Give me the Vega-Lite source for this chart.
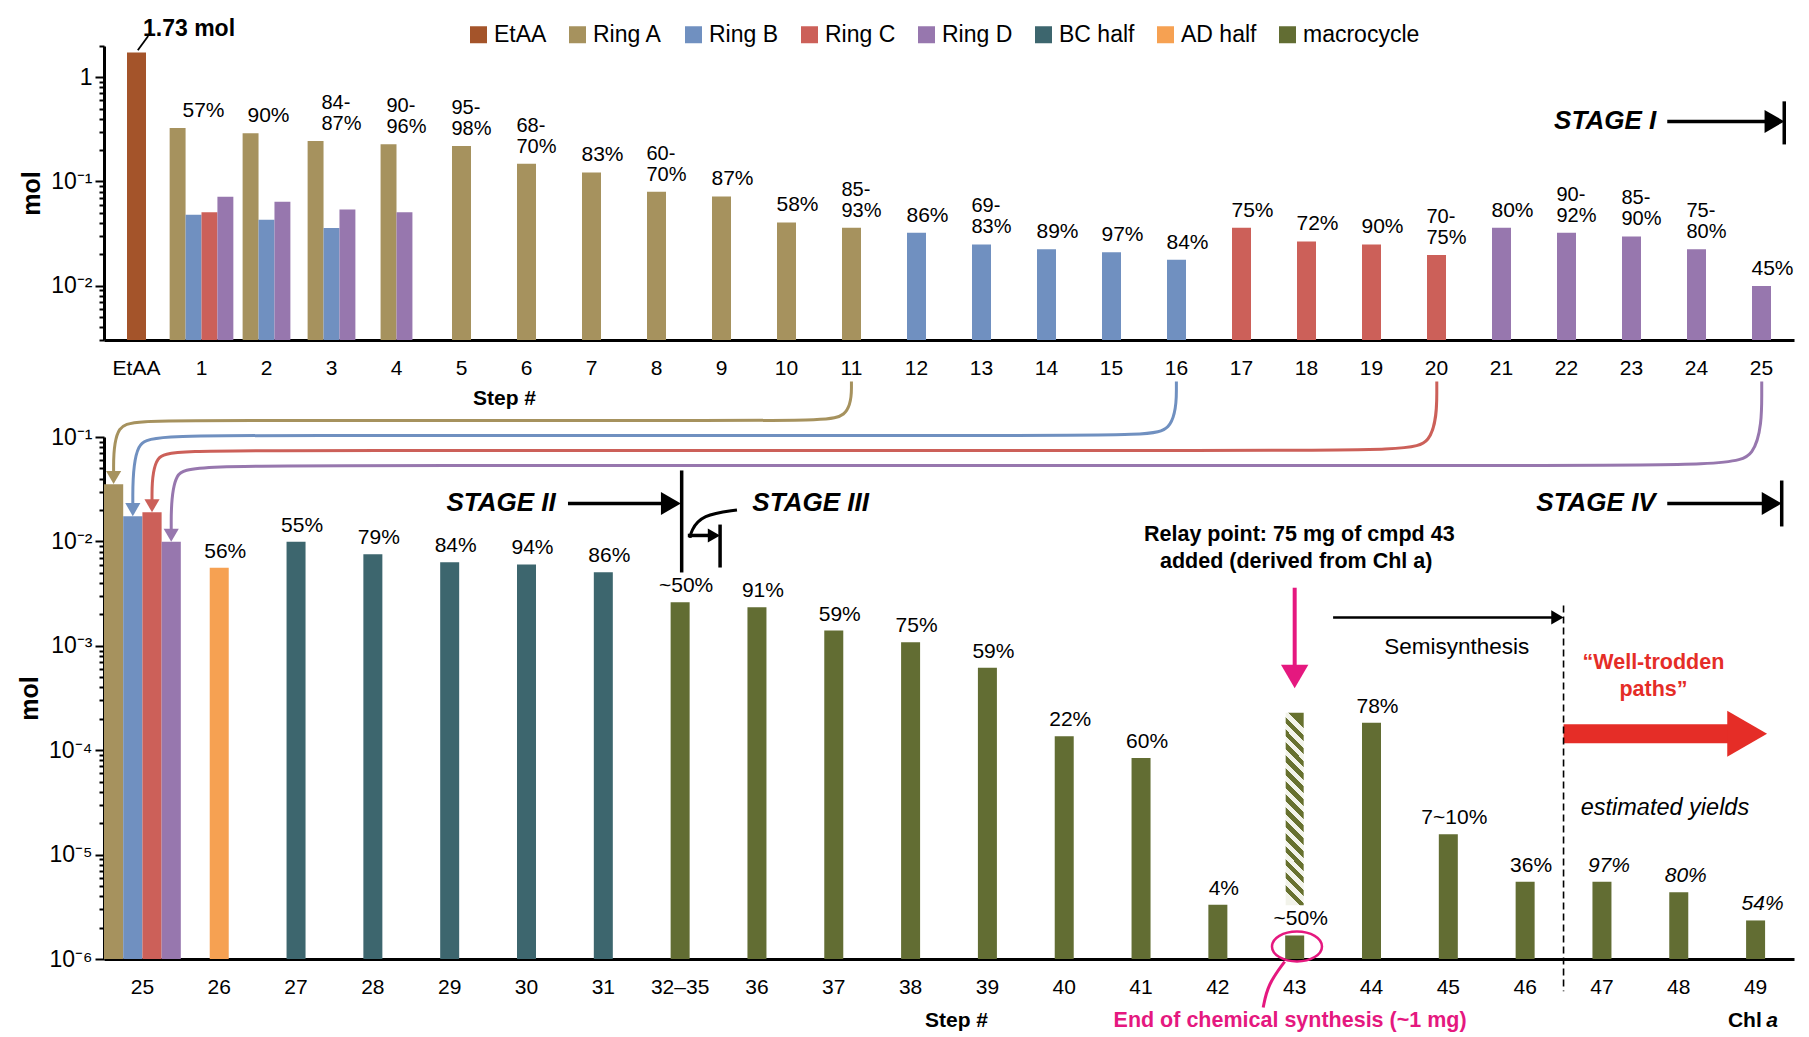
{
"$schema": "https://vega.github.io/schema/vega-lite/v6.json",
"background": "white",
"padding": {"left": 17, "top": 17, "right": 2, "bottom": 2},
"bounds": "flush",
"spacing": 97,
"config": {
  "view": {"stroke": null},
  "font": "Liberation Sans",
  "axis": {"grid": false, "domainColor": "black", "tickColor": "black", "labelColor": "black", "titleColor": "black", "labelFont": "Liberation Sans", "titleFont": "Liberation Sans"},
  "legend": {"labelFont": "Liberation Sans"}
},
"datasets": {
  "topBars": [
    {"step": "EtAA", "series": "EtAA", "mol": 1.73},
    {"step": "1", "series": "Ring A", "mol": 0.326},
    {"step": "1", "series": "Ring B", "mol": 0.048},
    {"step": "1", "series": "Ring C", "mol": 0.0507},
    {"step": "1", "series": "Ring D", "mol": 0.0713},
    {"step": "2", "series": "Ring A", "mol": 0.29},
    {"step": "2", "series": "Ring B", "mol": 0.0428},
    {"step": "2", "series": "Ring D", "mol": 0.0638},
    {"step": "3", "series": "Ring A", "mol": 0.244},
    {"step": "3", "series": "Ring B", "mol": 0.0358},
    {"step": "3", "series": "Ring D", "mol": 0.0538},
    {"step": "4", "series": "Ring A", "mol": 0.228},
    {"step": "4", "series": "Ring D", "mol": 0.0507},
    {"step": "5", "series": "Ring A", "mol": 0.219},
    {"step": "6", "series": "Ring A", "mol": 0.148},
    {"step": "7", "series": "Ring A", "mol": 0.122},
    {"step": "8", "series": "Ring A", "mol": 0.0795},
    {"step": "9", "series": "Ring A", "mol": 0.0718},
    {"step": "10", "series": "Ring A", "mol": 0.0404},
    {"step": "11", "series": "Ring A", "mol": 0.0359},
    {"step": "12", "series": "Ring B", "mol": 0.0321},
    {"step": "13", "series": "Ring B", "mol": 0.0248},
    {"step": "14", "series": "Ring B", "mol": 0.0223},
    {"step": "15", "series": "Ring B", "mol": 0.0209},
    {"step": "16", "series": "Ring B", "mol": 0.0177},
    {"step": "17", "series": "Ring C", "mol": 0.0359},
    {"step": "18", "series": "Ring C", "mol": 0.0265},
    {"step": "19", "series": "Ring C", "mol": 0.0248},
    {"step": "20", "series": "Ring C", "mol": 0.0197},
    {"step": "21", "series": "Ring D", "mol": 0.0359},
    {"step": "22", "series": "Ring D", "mol": 0.0321},
    {"step": "23", "series": "Ring D", "mol": 0.0296},
    {"step": "24", "series": "Ring D", "mol": 0.0223},
    {"step": "25", "series": "Ring D", "mol": 0.00993}
  ],
  "topLabels": [
    {"step": "1", "mol": 0.326, "label": "57%"},
    {"step": "2", "mol": 0.29, "label": "90%"},
    {"step": "3", "mol": 0.244, "label": "84-\n87%"},
    {"step": "4", "mol": 0.228, "label": "90-\n96%"},
    {"step": "5", "mol": 0.219, "label": "95-\n98%"},
    {"step": "6", "mol": 0.148, "label": "68-\n70%"},
    {"step": "7", "mol": 0.122, "label": "83%"},
    {"step": "8", "mol": 0.0795, "label": "60-\n70%"},
    {"step": "9", "mol": 0.0718, "label": "87%"},
    {"step": "10", "mol": 0.0404, "label": "58%"},
    {"step": "11", "mol": 0.0359, "label": "85-\n93%"},
    {"step": "12", "mol": 0.0321, "label": "86%"},
    {"step": "13", "mol": 0.0248, "label": "69-\n83%"},
    {"step": "14", "mol": 0.0223, "label": "89%"},
    {"step": "15", "mol": 0.0209, "label": "97%"},
    {"step": "16", "mol": 0.0177, "label": "84%"},
    {"step": "17", "mol": 0.0359, "label": "75%"},
    {"step": "18", "mol": 0.0265, "label": "72%"},
    {"step": "19", "mol": 0.0248, "label": "90%"},
    {"step": "20", "mol": 0.0197, "label": "70-\n75%"},
    {"step": "21", "mol": 0.0359, "label": "80%"},
    {"step": "22", "mol": 0.0321, "label": "90-\n92%"},
    {"step": "23", "mol": 0.0296, "label": "85-\n90%"},
    {"step": "24", "mol": 0.0223, "label": "75-\n80%"},
    {"step": "25", "mol": 0.00993, "label": "45%"}
  ],
  "topText": [
    {"pos": 0.6, "mol": 2.92, "text": "1.73 mol", "k": "big"},
    {"pos": 23.88, "mol": 0.3776, "text": "STAGE I", "k": "stage"}
  ],
  "topRules": [
    {"pos": 0.52, "mol": 1.82, "pos2": 0.68, "mol2": 2.5, "k": "thin"},
    {"pos": 24.05, "mol": 0.3776, "pos2": 25.65, "mol2": 0.3776, "k": "thick"},
    {"pos": 25.85, "mol": 0.588, "pos2": 25.85, "mol2": 0.2268, "k": "thick"}
  ],
  "topHeads": [
    {"pos": 25.7, "mol": 0.3776}
  ],
  "botBars": [
    {"step": "25", "series": "Ring A", "mol": 0.0353},
    {"step": "25", "series": "Ring B", "mol": 0.0174},
    {"step": "25", "series": "Ring C", "mol": 0.019},
    {"step": "25", "series": "Ring D", "mol": 0.0099},
    {"step": "26", "series": "AD half", "mol": 0.00559},
    {"step": "27", "series": "BC half", "mol": 0.0099},
    {"step": "28", "series": "BC half", "mol": 0.00753},
    {"step": "29", "series": "BC half", "mol": 0.00633},
    {"step": "30", "series": "BC half", "mol": 0.00601},
    {"step": "31", "series": "BC half", "mol": 0.00507},
    {"step": "32–35", "series": "macrocycle", "mol": 0.00262},
    {"step": "36", "series": "macrocycle", "mol": 0.00234},
    {"step": "37", "series": "macrocycle", "mol": 0.0014},
    {"step": "38", "series": "macrocycle", "mol": 0.00108},
    {"step": "39", "series": "macrocycle", "mol": 0.000615},
    {"step": "40", "series": "macrocycle", "mol": 0.000136},
    {"step": "41", "series": "macrocycle", "mol": 0.000084},
    {"step": "42", "series": "macrocycle", "mol": 0.0000033},
    {"step": "43", "series": "macrocycle", "mol": 0.00000168},
    {"step": "44", "series": "macrocycle", "mol": 0.000183},
    {"step": "45", "series": "macrocycle", "mol": 0.0000157},
    {"step": "46", "series": "macrocycle", "mol": 0.0000055},
    {"step": "47", "series": "macrocycle", "mol": 0.0000055},
    {"step": "48", "series": "macrocycle", "mol": 0.00000437},
    {"step": "49", "series": "macrocycle", "mol": 0.00000234}
  ],
  "botLabels": [
    {"step": "26", "mol": 0.00559, "label": "56%"},
    {"step": "27", "mol": 0.0099, "label": "55%"},
    {"step": "28", "mol": 0.00753, "label": "79%"},
    {"step": "29", "mol": 0.00633, "label": "84%"},
    {"step": "30", "mol": 0.00601, "label": "94%"},
    {"step": "31", "mol": 0.00507, "label": "86%"},
    {"step": "32–35", "mol": 0.00262, "label": "~50%"},
    {"step": "36", "mol": 0.00234, "label": "91%"},
    {"step": "37", "mol": 0.0014, "label": "59%"},
    {"step": "38", "mol": 0.00108, "label": "75%"},
    {"step": "39", "mol": 0.000615, "label": "59%"},
    {"step": "40", "mol": 0.000136, "label": "22%"},
    {"step": "41", "mol": 0.000084, "label": "60%"},
    {"step": "42", "mol": 0.0000033, "label": "4%"},
    {"step": "43", "mol": 0.00000168, "label": "~50%"},
    {"step": "44", "mol": 0.000183, "label": "78%"},
    {"step": "45", "mol": 0.0000157, "label": "7~10%"},
    {"step": "46", "mol": 0.0000055, "label": "36%"},
    {"step": "47", "mol": 0.0000055, "label": "97%"},
    {"step": "48", "mol": 0.00000437, "label": "80%"},
    {"step": "49", "mol": 0.00000234, "label": "54%"}
  ],
  "relay": [
    {"step": "43", "hi": 0.000228, "lo": 0.00000327}
  ],
  "curves": [
    {"c": "A", "i": 0, "pos": 9.73, "mol": 0.34},
    {"c": "A", "i": 1, "pos": 9.73, "mol": 0.1439},
    {"c": "A", "i": 2, "pos": 9.1, "mol": 0.1439},
    {"c": "A", "i": 3, "pos": 0.6, "mol": 0.1439},
    {"c": "A", "i": 4, "pos": 0.125, "mol": 0.1439},
    {"c": "A", "i": 5, "pos": 0.125, "mol": 0.0428},
    {"c": "B", "i": 0, "pos": 13.96, "mol": 0.34},
    {"c": "B", "i": 1, "pos": 13.96, "mol": 0.1034},
    {"c": "B", "i": 2, "pos": 13.3, "mol": 0.1034},
    {"c": "B", "i": 3, "pos": 0.85, "mol": 0.1034},
    {"c": "B", "i": 4, "pos": 0.375, "mol": 0.1034},
    {"c": "B", "i": 5, "pos": 0.375, "mol": 0.0209},
    {"c": "C", "i": 0, "pos": 17.35, "mol": 0.34},
    {"c": "C", "i": 1, "pos": 17.35, "mol": 0.0743},
    {"c": "C", "i": 2, "pos": 16.65, "mol": 0.0743},
    {"c": "C", "i": 3, "pos": 1.1, "mol": 0.0743},
    {"c": "C", "i": 4, "pos": 0.625, "mol": 0.0743},
    {"c": "C", "i": 5, "pos": 0.625, "mol": 0.0231},
    {"c": "D", "i": 0, "pos": 21.58, "mol": 0.34},
    {"c": "D", "i": 1, "pos": 21.58, "mol": 0.0533},
    {"c": "D", "i": 2, "pos": 20.8, "mol": 0.0533},
    {"c": "D", "i": 3, "pos": 1.35, "mol": 0.0533},
    {"c": "D", "i": 4, "pos": 0.875, "mol": 0.0533},
    {"c": "D", "i": 5, "pos": 0.875, "mol": 0.0121},
    {"c": "S3", "i": 0, "pos": 8.24, "mol": 0.02},
    {"c": "S3", "i": 1, "pos": 7.78, "mol": 0.018},
    {"c": "S3", "i": 2, "pos": 7.64, "mol": 0.0125},
    {"c": "S3", "i": 3, "pos": 7.63, "mol": 0.0108},
    {"c": "M", "i": 0, "pos": 15.37, "mol": 0.000000946},
    {"c": "M", "i": 1, "pos": 15.15, "mol": 0.00000057},
    {"c": "M", "i": 2, "pos": 15.09, "mol": 0.000000343}
  ],
  "ringHeads": [
    {"c": "A", "pos": 0.125, "mol": 0.0409},
    {"c": "B", "pos": 0.375, "mol": 0.02014},
    {"c": "C", "pos": 0.625, "mol": 0.02198},
    {"c": "D", "pos": 0.875, "mol": 0.01146}
  ],
  "heads": [
    {"k": "b529", "pos": 7.38, "mol": 0.0231},
    {"k": "b529", "pos": 21.71, "mol": 0.0231},
    {"k": "b200", "pos": 7.94, "mol": 0.0114},
    {"k": "b200", "pos": 18.92, "mol": 0.00187},
    {"k": "pink", "pos": 15.5, "mol": 0.000508},
    {"k": "red", "pos": 21.39, "mol": 0.000144}
  ],
  "bRules": [
    {"k": "black", "pos": 6.04, "mol": 0.0231, "pos2": 7.3, "mol2": 0.0231},
    {"k": "black", "pos": 7.52, "mol": 0.0478, "pos2": 7.52, "mol2": 0.00504},
    {"k": "black", "pos": 7.6, "mol": 0.0114, "pos2": 7.9, "mol2": 0.0114},
    {"k": "black", "pos": 8.02, "mol": 0.0145, "pos2": 8.02, "mol2": 0.00562},
    {"k": "black", "pos": 20.35, "mol": 0.0231, "pos2": 21.65, "mol2": 0.0231},
    {"k": "black", "pos": 21.84, "mol": 0.0383, "pos2": 21.84, "mol2": 0.0139},
    {"k": "semi", "pos": 16.0, "mol": 0.00187, "pos2": 18.9, "mol2": 0.00187},
    {"k": "pink", "pos": 15.5, "mol": 0.0036, "pos2": 15.5, "mol2": 0.000593},
    {"k": "red", "pos": 19.0, "mol": 0.000144, "pos2": 21.2, "mol2": 0.000144},
    {"k": "dash", "pos": 19.0, "mol": 0.00243, "pos2": 19.0, "mol2": 0.00000049}
  ],
  "circle": [
    {"pos": 15.53, "mol": 0.00000132}
  ],
  "bText": [
    {"k": "stageR", "pos": 5.88, "mol": 0.0231, "text": "STAGE II"},
    {"k": "stageR", "pos": 20.2, "mol": 0.0231, "text": "STAGE IV"},
    {"k": "stageL", "pos": 8.44, "mol": 0.0231, "text": "STAGE III"},
    {"k": "relay", "pos": 15.56, "mol": 0.0114, "text": "Relay point: 75 mg of cmpd 43"},
    {"k": "relay", "pos": 15.52, "mol": 0.00628, "text": "added (derived from Chl a)"},
    {"k": "semi", "pos": 17.61, "mol": 0.00098, "text": "Semisynthesis"},
    {"k": "well", "pos": 20.17, "mol": 0.00069, "text": "“Well-trodden"},
    {"k": "well", "pos": 20.17, "mol": 0.00038, "text": "paths”"},
    {"k": "est", "pos": 20.32, "mol": 0.0000282, "text": "estimated yields"},
    {"k": "end", "pos": 15.44, "mol": 0.000000257, "text": "End of chemical synthesis (~1 mg)"},
    {"k": "chl", "pos": 21.58, "mol": 0.000000257, "text": "Chl"},
    {"k": "chla", "pos": 21.64, "mol": 0.000000257, "text": "a"}
  ]
},
"vconcat": [
  {
    "width": 1690,
    "height": 294,
    "layer": [
      {
        "layer": [
          {
            "data": {"name": "topBars"},
            "transform": [{"filter": "indexof(['1','2','3','4'], datum.step) < 0"}],
            "mark": {"type": "bar", "size": 19},
            "encoding": {
              "x": {"field": "step", "type": "ordinal", "sort": null,
                "scale": {"domain": ["EtAA","1","2","3","4","5","6","7","8","9","10","11","12","13","14","15","16","17","18","19","20","21","22","23","24","25"], "paddingInner": 0.02, "paddingOuter": 0.01},
                "axis": {"title": "Step #", "titleFontSize": 21, "titleFontWeight": "bold", "titleX": 400, "titleY": 58, "titleBaseline": "middle", "labelAngle": 0, "labelFontSize": 21, "labelPadding": 17, "ticks": false, "domainWidth": 3, "labelOverlap": false}},
              "y": {"field": "mol", "type": "quantitative", "stack": null,
                "scale": {"type": "log", "domain": [0.003, 2], "nice": false},
                "axis": {"title": "mol", "titleFontSize": 25, "titleFontWeight": "bold", "titlePadding": 6,
                  "values": [0.003,0.004,0.005,0.006,0.007,0.008,0.009,0.01,0.02,0.03,0.04,0.05,0.06,0.07,0.08,0.09,0.1,0.2,0.3,0.4,0.5,0.6,0.7,0.8,0.9,1,2],
                  "labelExpr": "datum.value == 1 ? '1' : datum.value == 0.1 ? '10⁻¹' : datum.value == 0.01 ? '10⁻²' : ''",
                  "tickSize": {"condition": {"test": "datum.value == 1 || datum.value == 0.1 || datum.value == 0.01", "value": 9}, "value": 5},
                  "tickWidth": 2, "domainWidth": 3, "labelFontSize": 23, "labelPadding": 3, "labelOverlap": false}},
              "y2": {"datum": 0.003},
              "color": {"field": "series", "type": "nominal",
                "scale": {"domain": ["EtAA","Ring A","Ring B","Ring C","Ring D","BC half","AD half","macrocycle"], "range": ["#A4542A","#A6925E","#7090C0","#CC6059","#9777AE","#3D666E","#F6A152","#626D33"]},
                "legend": {"title": null, "orient": "none", "legendX": 363, "legendY": -23, "direction": "horizontal", "columns": 8, "symbolType": "square", "symbolSize": 289, "symbolStrokeWidth": 0, "symbolOpacity": 1, "labelFontSize": 23, "columnPadding": 19, "labelOffset": 4}}
            }
          },
          {
            "data": {"name": "topBars"},
            "transform": [{"filter": "datum.step == '1'"}],
            "mark": {"type": "bar"},
            "encoding": {
              "x": {"field": "step", "type": "ordinal", "sort": null, "scale": {"domain": ["EtAA","1","2","3","4","5","6","7","8","9","10","11","12","13","14","15","16","17","18","19","20","21","22","23","24","25"], "paddingInner": 0.02, "paddingOuter": 0.01}},
              "xOffset": {"field": "series", "type": "nominal", "scale": {"domain": ["Ring A","Ring B","Ring C","Ring D"], "paddingInner": 0, "paddingOuter": 0}},
              "y": {"field": "mol", "type": "quantitative", "stack": null, "scale": {"type": "log", "domain": [0.003, 2], "nice": false}},
              "y2": {"datum": 0.003},
              "color": {"field": "series", "type": "nominal", "scale": {"domain": ["EtAA","Ring A","Ring B","Ring C","Ring D","BC half","AD half","macrocycle"], "range": ["#A4542A","#A6925E","#7090C0","#CC6059","#9777AE","#3D666E","#F6A152","#626D33"]}}
            }
          },
          {
            "data": {"name": "topBars"},
            "transform": [{"filter": "datum.step == '2' || datum.step == '3'"}],
            "mark": {"type": "bar"},
            "encoding": {
              "x": {"field": "step", "type": "ordinal", "sort": null, "scale": {"domain": ["EtAA","1","2","3","4","5","6","7","8","9","10","11","12","13","14","15","16","17","18","19","20","21","22","23","24","25"], "paddingInner": 0.02, "paddingOuter": 0.01}},
              "xOffset": {"field": "series", "type": "nominal", "scale": {"domain": ["Ring A","Ring B","Ring D"], "paddingInner": 0, "paddingOuter": 0.5}},
              "y": {"field": "mol", "type": "quantitative", "stack": null, "scale": {"type": "log", "domain": [0.003, 2], "nice": false}},
              "y2": {"datum": 0.003},
              "color": {"field": "series", "type": "nominal", "scale": {"domain": ["EtAA","Ring A","Ring B","Ring C","Ring D","BC half","AD half","macrocycle"], "range": ["#A4542A","#A6925E","#7090C0","#CC6059","#9777AE","#3D666E","#F6A152","#626D33"]}}
            }
          },
          {
            "data": {"name": "topBars"},
            "transform": [{"filter": "datum.step == '4'"}],
            "mark": {"type": "bar"},
            "encoding": {
              "x": {"field": "step", "type": "ordinal", "sort": null, "scale": {"domain": ["EtAA","1","2","3","4","5","6","7","8","9","10","11","12","13","14","15","16","17","18","19","20","21","22","23","24","25"], "paddingInner": 0.02, "paddingOuter": 0.01}},
              "xOffset": {"field": "series", "type": "nominal", "scale": {"domain": ["Ring A","Ring D"], "paddingInner": 0, "paddingOuter": 1}},
              "y": {"field": "mol", "type": "quantitative", "stack": null, "scale": {"type": "log", "domain": [0.003, 2], "nice": false}},
              "y2": {"datum": 0.003},
              "color": {"field": "series", "type": "nominal", "scale": {"domain": ["EtAA","Ring A","Ring B","Ring C","Ring D","BC half","AD half","macrocycle"], "range": ["#A4542A","#A6925E","#7090C0","#CC6059","#9777AE","#3D666E","#F6A152","#626D33"]}}
            }
          },
          {
            "data": {"name": "topLabels"},
            "transform": [{"filter": "datum.step != '1' && datum.step != '2' && indexof(datum.label, '\\n') < 0"}],
            "mark": {"type": "text", "align": "left", "baseline": "bottom", "dx": -10, "dy": -7, "fontSize": 21, "color": "black"},
            "encoding": {
              "x": {"field": "step", "type": "ordinal", "sort": null, "scale": {"domain": ["EtAA","1","2","3","4","5","6","7","8","9","10","11","12","13","14","15","16","17","18","19","20","21","22","23","24","25"], "paddingInner": 0.02, "paddingOuter": 0.01}},
              "y": {"field": "mol", "type": "quantitative", "scale": {"type": "log", "domain": [0.003, 2], "nice": false}},
              "text": {"field": "label"}
            }
          },
          {
            "data": {"name": "topLabels"},
            "transform": [{"filter": "indexof(datum.label, '\\n') >= 0"}],
            "mark": {"type": "text", "align": "left", "baseline": "bottom", "dx": -10, "dy": -28, "fontSize": 20, "lineBreak": "\n", "lineHeight": 21, "color": "black"},
            "encoding": {
              "x": {"field": "step", "type": "ordinal", "sort": null, "scale": {"domain": ["EtAA","1","2","3","4","5","6","7","8","9","10","11","12","13","14","15","16","17","18","19","20","21","22","23","24","25"], "paddingInner": 0.02, "paddingOuter": 0.01}},
              "y": {"field": "mol", "type": "quantitative", "scale": {"type": "log", "domain": [0.003, 2], "nice": false}},
              "text": {"field": "label"}
            }
          },
          {
            "data": {"name": "topLabels"},
            "transform": [{"filter": "datum.step == '1' || datum.step == '2'"}],
            "mark": {"type": "text", "align": "center", "baseline": "bottom", "dx": 2, "dy": -7, "fontSize": 21, "color": "black"},
            "encoding": {
              "x": {"field": "step", "type": "ordinal", "sort": null, "scale": {"domain": ["EtAA","1","2","3","4","5","6","7","8","9","10","11","12","13","14","15","16","17","18","19","20","21","22","23","24","25"], "paddingInner": 0.02, "paddingOuter": 0.01}},
              "y": {"field": "mol", "type": "quantitative", "scale": {"type": "log", "domain": [0.003, 2], "nice": false}},
              "text": {"field": "label"}
            }
          }
        ],
        "resolve": {"scale": {"xOffset": "independent"}}
      },
      {
        "layer": [
          {
            "data": {"name": "topRules"},
            "transform": [{"filter": "datum.k == 'thin'"}],
            "mark": {"type": "rule", "strokeWidth": 1.8, "color": "black"},
            "encoding": {
              "x": {"field": "pos", "type": "quantitative", "scale": {"domain": [0, 26], "nice": false, "zero": false}, "axis": null},
              "x2": {"field": "pos2"},
              "y": {"field": "mol", "type": "quantitative", "scale": {"type": "log", "domain": [0.003, 2], "nice": false}},
              "y2": {"field": "mol2"}
            }
          },
          {
            "data": {"name": "topRules"},
            "transform": [{"filter": "datum.k == 'thick'"}],
            "mark": {"type": "rule", "strokeWidth": 3.5, "color": "black"},
            "encoding": {
              "x": {"field": "pos", "type": "quantitative", "scale": {"domain": [0, 26], "nice": false, "zero": false}, "axis": null},
              "x2": {"field": "pos2"},
              "y": {"field": "mol", "type": "quantitative", "scale": {"type": "log", "domain": [0.003, 2], "nice": false}},
              "y2": {"field": "mol2"}
            }
          },
          {
            "data": {"name": "topHeads"},
            "mark": {"type": "point", "shape": "triangle-right", "filled": true, "size": 529, "color": "black", "opacity": 1},
            "encoding": {
              "x": {"field": "pos", "type": "quantitative", "scale": {"domain": [0, 26], "nice": false, "zero": false}, "axis": null},
              "y": {"field": "mol", "type": "quantitative", "scale": {"type": "log", "domain": [0.003, 2], "nice": false}}
            }
          },
          {
            "data": {"name": "topText"},
            "transform": [{"filter": "datum.k == 'big'"}],
            "mark": {"type": "text", "align": "left", "baseline": "middle", "fontSize": 23, "fontWeight": "bold", "color": "black"},
            "encoding": {
              "x": {"field": "pos", "type": "quantitative", "scale": {"domain": [0, 26], "nice": false, "zero": false}, "axis": null},
              "y": {"field": "mol", "type": "quantitative", "scale": {"type": "log", "domain": [0.003, 2], "nice": false}},
              "text": {"field": "text"}
            }
          },
          {
            "data": {"name": "topText"},
            "transform": [{"filter": "datum.k == 'stage'"}],
            "mark": {"type": "text", "align": "right", "baseline": "middle", "fontSize": 26, "fontWeight": "bold", "fontStyle": "italic", "color": "black"},
            "encoding": {
              "x": {"field": "pos", "type": "quantitative", "scale": {"domain": [0, 26], "nice": false, "zero": false}, "axis": null},
              "y": {"field": "mol", "type": "quantitative", "scale": {"type": "log", "domain": [0.003, 2], "nice": false}},
              "text": {"field": "text"}
            }
          }
        ]
      }
    ],
    "resolve": {"scale": {"x": "independent"}}
  },
  {
    "width": 1690,
    "height": 522,
    "layer": [
      {
        "layer": [
          {
            "data": {"name": "botBars"},
            "transform": [{"filter": "datum.step != '25'"}],
            "mark": {"type": "bar", "size": 19},
            "encoding": {
              "x": {"field": "step", "type": "ordinal", "sort": null,
                "scale": {"domain": ["25","26","27","28","29","30","31","32–35","36","37","38","39","40","41","42","43","44","45","46","47","48","49"], "paddingInner": 0, "paddingOuter": 0},
                "axis": {"title": "Step #", "titleFontSize": 21, "titleFontWeight": "bold", "titleX": 852, "titleY": 61, "titleBaseline": "middle", "labelAngle": 0, "labelFontSize": 21, "labelPadding": 17, "ticks": false, "domainWidth": 3, "labelOverlap": false}},
              "y": {"field": "mol", "type": "quantitative", "stack": null,
                "scale": {"type": "log", "domain": [0.000001, 0.1], "nice": false},
                "axis": {"title": "mol", "titleFontSize": 25, "titleFontWeight": "bold", "titlePadding": 6,
                  "values": [0.000001,0.000002,0.000003,0.000004,0.000005,0.000006,0.000007,0.000008,0.000009,0.00001,0.00002,0.00003,0.00004,0.00005,0.00006,0.00007,0.00008,0.00009,0.0001,0.0002,0.0003,0.0004,0.0005,0.0006,0.0007,0.0008,0.0009,0.001,0.002,0.003,0.004,0.005,0.006,0.007,0.008,0.009,0.01,0.02,0.03,0.04,0.05,0.06,0.07,0.08,0.09,0.1],
                  "labelExpr": "datum.value == 0.1 ? '10⁻¹' : datum.value == 0.01 ? '10⁻²' : datum.value == 0.001 ? '10⁻³' : datum.value == 0.0001 ? '10⁻⁴' : datum.value == 0.00001 ? '10⁻⁵' : datum.value == 0.000001 ? '10⁻⁶' : ''",
                  "tickSize": {"condition": {"test": "datum.value == 0.1 || datum.value == 0.01 || datum.value == 0.001 || datum.value == 0.0001 || datum.value == 0.00001 || datum.value == 0.000001", "value": 9}, "value": 5},
                  "tickWidth": 2, "domainWidth": 3, "labelFontSize": 23, "labelPadding": 3, "labelOverlap": false}},
              "y2": {"datum": 0.000001},
              "color": {"field": "series", "type": "nominal", "scale": {"domain": ["EtAA","Ring A","Ring B","Ring C","Ring D","BC half","AD half","macrocycle"], "range": ["#A4542A","#A6925E","#7090C0","#CC6059","#9777AE","#3D666E","#F6A152","#626D33"]}}
            }
          },
          {
            "data": {"name": "botBars"},
            "transform": [{"filter": "datum.step == '25'"}],
            "mark": {"type": "bar"},
            "encoding": {
              "x": {"field": "step", "type": "ordinal", "sort": null, "scale": {"domain": ["25","26","27","28","29","30","31","32–35","36","37","38","39","40","41","42","43","44","45","46","47","48","49"], "paddingInner": 0, "paddingOuter": 0}},
              "xOffset": {"field": "series", "type": "nominal", "scale": {"domain": ["Ring A","Ring B","Ring C","Ring D"], "paddingInner": 0, "paddingOuter": 0}},
              "y": {"field": "mol", "type": "quantitative", "stack": null, "scale": {"type": "log", "domain": [0.000001, 0.1], "nice": false}},
              "y2": {"datum": 0.000001},
              "color": {"field": "series", "type": "nominal", "scale": {"domain": ["EtAA","Ring A","Ring B","Ring C","Ring D","BC half","AD half","macrocycle"], "range": ["#A4542A","#A6925E","#7090C0","#CC6059","#9777AE","#3D666E","#F6A152","#626D33"]}}
            }
          },
          {
            "data": {"name": "relay"},
            "mark": {"type": "bar", "size": 18, "fill": {"gradient": "linear", "x1": 0.5, "y1": 0, "x2": 0.406, "y2": 1, "stops": [
              {"offset":0,"color":"#67712F"},{"offset":0.0333,"color":"#67712F"},{"offset":0.0333,"color":"#F2F3EA"},{"offset":0.0667,"color":"#F2F3EA"},
              {"offset":0.0667,"color":"#67712F"},{"offset":0.1,"color":"#67712F"},{"offset":0.1,"color":"#F2F3EA"},{"offset":0.1333,"color":"#F2F3EA"},
              {"offset":0.1333,"color":"#67712F"},{"offset":0.1667,"color":"#67712F"},{"offset":0.1667,"color":"#F2F3EA"},{"offset":0.2,"color":"#F2F3EA"},
              {"offset":0.2,"color":"#67712F"},{"offset":0.2333,"color":"#67712F"},{"offset":0.2333,"color":"#F2F3EA"},{"offset":0.2667,"color":"#F2F3EA"},
              {"offset":0.2667,"color":"#67712F"},{"offset":0.3,"color":"#67712F"},{"offset":0.3,"color":"#F2F3EA"},{"offset":0.3333,"color":"#F2F3EA"},
              {"offset":0.3333,"color":"#67712F"},{"offset":0.3667,"color":"#67712F"},{"offset":0.3667,"color":"#F2F3EA"},{"offset":0.4,"color":"#F2F3EA"},
              {"offset":0.4,"color":"#67712F"},{"offset":0.4333,"color":"#67712F"},{"offset":0.4333,"color":"#F2F3EA"},{"offset":0.4667,"color":"#F2F3EA"},
              {"offset":0.4667,"color":"#67712F"},{"offset":0.5,"color":"#67712F"},{"offset":0.5,"color":"#F2F3EA"},{"offset":0.5333,"color":"#F2F3EA"},
              {"offset":0.5333,"color":"#67712F"},{"offset":0.5667,"color":"#67712F"},{"offset":0.5667,"color":"#F2F3EA"},{"offset":0.6,"color":"#F2F3EA"},
              {"offset":0.6,"color":"#67712F"},{"offset":0.6333,"color":"#67712F"},{"offset":0.6333,"color":"#F2F3EA"},{"offset":0.6667,"color":"#F2F3EA"},
              {"offset":0.6667,"color":"#67712F"},{"offset":0.7,"color":"#67712F"},{"offset":0.7,"color":"#F2F3EA"},{"offset":0.7333,"color":"#F2F3EA"},
              {"offset":0.7333,"color":"#67712F"},{"offset":0.7667,"color":"#67712F"},{"offset":0.7667,"color":"#F2F3EA"},{"offset":0.8,"color":"#F2F3EA"},
              {"offset":0.8,"color":"#67712F"},{"offset":0.8333,"color":"#67712F"},{"offset":0.8333,"color":"#F2F3EA"},{"offset":0.8667,"color":"#F2F3EA"},
              {"offset":0.8667,"color":"#67712F"},{"offset":0.9,"color":"#67712F"},{"offset":0.9,"color":"#F2F3EA"},{"offset":0.9333,"color":"#F2F3EA"},
              {"offset":0.9333,"color":"#67712F"},{"offset":0.9667,"color":"#67712F"},{"offset":0.9667,"color":"#F2F3EA"},{"offset":1,"color":"#F2F3EA"}
            ]}},
            "encoding": {
              "x": {"field": "step", "type": "ordinal", "sort": null, "scale": {"domain": ["25","26","27","28","29","30","31","32–35","36","37","38","39","40","41","42","43","44","45","46","47","48","49"], "paddingInner": 0, "paddingOuter": 0}},
              "y": {"field": "hi", "type": "quantitative", "scale": {"type": "log", "domain": [0.000001, 0.1], "nice": false}},
              "y2": {"field": "lo"}
            }
          },
          {
            "data": {"name": "botLabels"},
            "transform": [{"filter": "indexof(['47','48','49'], datum.step) < 0"}],
            "mark": {"type": "text", "align": "center", "baseline": "bottom", "dx": 6, "dy": -6, "fontSize": 21, "color": "black"},
            "encoding": {
              "x": {"field": "step", "type": "ordinal", "sort": null, "scale": {"domain": ["25","26","27","28","29","30","31","32–35","36","37","38","39","40","41","42","43","44","45","46","47","48","49"], "paddingInner": 0, "paddingOuter": 0}},
              "y": {"field": "mol", "type": "quantitative", "scale": {"type": "log", "domain": [0.000001, 0.1], "nice": false}},
              "text": {"field": "label"}
            }
          },
          {
            "data": {"name": "botLabels"},
            "transform": [{"filter": "indexof(['47','48','49'], datum.step) >= 0"}],
            "mark": {"type": "text", "align": "center", "baseline": "bottom", "dx": 7, "dy": -6, "fontSize": 21, "fontStyle": "italic", "color": "black"},
            "encoding": {
              "x": {"field": "step", "type": "ordinal", "sort": null, "scale": {"domain": ["25","26","27","28","29","30","31","32–35","36","37","38","39","40","41","42","43","44","45","46","47","48","49"], "paddingInner": 0, "paddingOuter": 0}},
              "y": {"field": "mol", "type": "quantitative", "scale": {"type": "log", "domain": [0.000001, 0.1], "nice": false}},
              "text": {"field": "label"}
            }
          }
        ]
      },
      {
        "layer": [
          {
            "data": {"name": "curves"},
            "mark": {"type": "line", "interpolate": "basis", "strokeWidth": 3},
            "encoding": {
              "x": {"field": "pos", "type": "quantitative", "scale": {"domain": [0, 22], "nice": false, "zero": false}, "axis": null},
              "y": {"field": "mol", "type": "quantitative", "scale": {"type": "log", "domain": [0.000001, 0.1], "nice": false}},
              "stroke": {"field": "c", "type": "nominal", "scale": {"domain": ["A","B","C","D","S3","M"], "range": ["#A6925E","#7090C0","#CC6059","#9777AE","#000000","#E5187F"]}, "legend": null},
              "order": {"field": "i", "type": "quantitative"}
            }
          },
          {
            "data": {"name": "ringHeads"},
            "mark": {"type": "point", "shape": "triangle-down", "filled": true, "size": 230, "opacity": 1},
            "encoding": {
              "x": {"field": "pos", "type": "quantitative", "scale": {"domain": [0, 22], "nice": false, "zero": false}, "axis": null},
              "y": {"field": "mol", "type": "quantitative", "scale": {"type": "log", "domain": [0.000001, 0.1], "nice": false}},
              "fill": {"field": "c", "type": "nominal", "scale": {"domain": ["A","B","C","D"], "range": ["#A6925E","#7090C0","#CC6059","#9777AE"]}, "legend": null}
            }
          },
          {
            "data": {"name": "bRules"},
            "transform": [{"filter": "datum.k == 'black'"}],
            "mark": {"type": "rule", "strokeWidth": 3.5, "color": "black"},
            "encoding": {
              "x": {"field": "pos", "type": "quantitative", "scale": {"domain": [0, 22], "nice": false, "zero": false}, "axis": null},
              "x2": {"field": "pos2"},
              "y": {"field": "mol", "type": "quantitative", "scale": {"type": "log", "domain": [0.000001, 0.1], "nice": false}},
              "y2": {"field": "mol2"}
            }
          },
          {
            "data": {"name": "bRules"},
            "transform": [{"filter": "datum.k == 'semi'"}],
            "mark": {"type": "rule", "strokeWidth": 2.5, "color": "black"},
            "encoding": {
              "x": {"field": "pos", "type": "quantitative", "scale": {"domain": [0, 22], "nice": false, "zero": false}, "axis": null},
              "x2": {"field": "pos2"},
              "y": {"field": "mol", "type": "quantitative", "scale": {"type": "log", "domain": [0.000001, 0.1], "nice": false}},
              "y2": {"field": "mol2"}
            }
          },
          {
            "data": {"name": "bRules"},
            "transform": [{"filter": "datum.k == 'pink'"}],
            "mark": {"type": "rule", "strokeWidth": 4, "color": "#E5187F"},
            "encoding": {
              "x": {"field": "pos", "type": "quantitative", "scale": {"domain": [0, 22], "nice": false, "zero": false}, "axis": null},
              "x2": {"field": "pos2"},
              "y": {"field": "mol", "type": "quantitative", "scale": {"type": "log", "domain": [0.000001, 0.1], "nice": false}},
              "y2": {"field": "mol2"}
            }
          },
          {
            "data": {"name": "bRules"},
            "transform": [{"filter": "datum.k == 'red'"}],
            "mark": {"type": "rule", "strokeWidth": 19, "color": "#E52D27", "strokeCap": "butt"},
            "encoding": {
              "x": {"field": "pos", "type": "quantitative", "scale": {"domain": [0, 22], "nice": false, "zero": false}, "axis": null},
              "x2": {"field": "pos2"},
              "y": {"field": "mol", "type": "quantitative", "scale": {"type": "log", "domain": [0.000001, 0.1], "nice": false}},
              "y2": {"field": "mol2"}
            }
          },
          {
            "data": {"name": "bRules"},
            "transform": [{"filter": "datum.k == 'dash'"}],
            "mark": {"type": "rule", "strokeWidth": 1.6, "color": "black", "strokeDash": [7, 4]},
            "encoding": {
              "x": {"field": "pos", "type": "quantitative", "scale": {"domain": [0, 22], "nice": false, "zero": false}, "axis": null},
              "x2": {"field": "pos2"},
              "y": {"field": "mol", "type": "quantitative", "scale": {"type": "log", "domain": [0.000001, 0.1], "nice": false}},
              "y2": {"field": "mol2"}
            }
          },
          {
            "data": {"name": "heads"},
            "transform": [{"filter": "datum.k == 'b529'"}],
            "mark": {"type": "point", "shape": "triangle-right", "filled": true, "size": 529, "color": "black", "opacity": 1},
            "encoding": {
              "x": {"field": "pos", "type": "quantitative", "scale": {"domain": [0, 22], "nice": false, "zero": false}, "axis": null},
              "y": {"field": "mol", "type": "quantitative", "scale": {"type": "log", "domain": [0.000001, 0.1], "nice": false}}
            }
          },
          {
            "data": {"name": "heads"},
            "transform": [{"filter": "datum.k == 'b200'"}],
            "mark": {"type": "point", "shape": "triangle-right", "filled": true, "size": 200, "color": "black", "opacity": 1},
            "encoding": {
              "x": {"field": "pos", "type": "quantitative", "scale": {"domain": [0, 22], "nice": false, "zero": false}, "axis": null},
              "y": {"field": "mol", "type": "quantitative", "scale": {"type": "log", "domain": [0.000001, 0.1], "nice": false}}
            }
          },
          {
            "data": {"name": "heads"},
            "transform": [{"filter": "datum.k == 'pink'"}],
            "mark": {"type": "point", "shape": "triangle-down", "filled": true, "size": 750, "color": "#E5187F", "opacity": 1},
            "encoding": {
              "x": {"field": "pos", "type": "quantitative", "scale": {"domain": [0, 22], "nice": false, "zero": false}, "axis": null},
              "y": {"field": "mol", "type": "quantitative", "scale": {"type": "log", "domain": [0.000001, 0.1], "nice": false}}
            }
          },
          {
            "data": {"name": "heads"},
            "transform": [{"filter": "datum.k == 'red'"}],
            "mark": {"type": "point", "shape": "triangle-right", "filled": true, "size": 2116, "color": "#E52D27", "opacity": 1},
            "encoding": {
              "x": {"field": "pos", "type": "quantitative", "scale": {"domain": [0, 22], "nice": false, "zero": false}, "axis": null},
              "y": {"field": "mol", "type": "quantitative", "scale": {"type": "log", "domain": [0.000001, 0.1], "nice": false}}
            }
          },
          {
            "data": {"name": "circle"},
            "mark": {"type": "point", "shape": "M-1,0A1,0.6,0,1,0,1,0A1,0.6,0,1,0,-1,0Z", "filled": false, "size": 2500, "color": "#E5187F", "strokeWidth": 2.5, "opacity": 1},
            "encoding": {
              "x": {"field": "pos", "type": "quantitative", "scale": {"domain": [0, 22], "nice": false, "zero": false}, "axis": null},
              "y": {"field": "mol", "type": "quantitative", "scale": {"type": "log", "domain": [0.000001, 0.1], "nice": false}}
            }
          },
          {
            "data": {"name": "bText"},
            "transform": [{"filter": "datum.k == 'stageR'"}],
            "mark": {"type": "text", "align": "right", "baseline": "middle", "fontSize": 26, "fontWeight": "bold", "fontStyle": "italic", "color": "black"},
            "encoding": {
              "x": {"field": "pos", "type": "quantitative", "scale": {"domain": [0, 22], "nice": false, "zero": false}, "axis": null},
              "y": {"field": "mol", "type": "quantitative", "scale": {"type": "log", "domain": [0.000001, 0.1], "nice": false}},
              "text": {"field": "text"}
            }
          },
          {
            "data": {"name": "bText"},
            "transform": [{"filter": "datum.k == 'stageL'"}],
            "mark": {"type": "text", "align": "left", "baseline": "middle", "fontSize": 26, "fontWeight": "bold", "fontStyle": "italic", "color": "black"},
            "encoding": {
              "x": {"field": "pos", "type": "quantitative", "scale": {"domain": [0, 22], "nice": false, "zero": false}, "axis": null},
              "y": {"field": "mol", "type": "quantitative", "scale": {"type": "log", "domain": [0.000001, 0.1], "nice": false}},
              "text": {"field": "text"}
            }
          },
          {
            "data": {"name": "bText"},
            "transform": [{"filter": "datum.k == 'relay'"}],
            "mark": {"type": "text", "align": "center", "baseline": "middle", "fontSize": 21.5, "fontWeight": "bold", "color": "black"},
            "encoding": {
              "x": {"field": "pos", "type": "quantitative", "scale": {"domain": [0, 22], "nice": false, "zero": false}, "axis": null},
              "y": {"field": "mol", "type": "quantitative", "scale": {"type": "log", "domain": [0.000001, 0.1], "nice": false}},
              "text": {"field": "text"}
            }
          },
          {
            "data": {"name": "bText"},
            "transform": [{"filter": "datum.k == 'semi'"}],
            "mark": {"type": "text", "align": "center", "baseline": "middle", "fontSize": 22.5, "color": "black"},
            "encoding": {
              "x": {"field": "pos", "type": "quantitative", "scale": {"domain": [0, 22], "nice": false, "zero": false}, "axis": null},
              "y": {"field": "mol", "type": "quantitative", "scale": {"type": "log", "domain": [0.000001, 0.1], "nice": false}},
              "text": {"field": "text"}
            }
          },
          {
            "data": {"name": "bText"},
            "transform": [{"filter": "datum.k == 'well'"}],
            "mark": {"type": "text", "align": "center", "baseline": "middle", "fontSize": 21.5, "fontWeight": "bold", "color": "#E52D27"},
            "encoding": {
              "x": {"field": "pos", "type": "quantitative", "scale": {"domain": [0, 22], "nice": false, "zero": false}, "axis": null},
              "y": {"field": "mol", "type": "quantitative", "scale": {"type": "log", "domain": [0.000001, 0.1], "nice": false}},
              "text": {"field": "text"}
            }
          },
          {
            "data": {"name": "bText"},
            "transform": [{"filter": "datum.k == 'est'"}],
            "mark": {"type": "text", "align": "center", "baseline": "middle", "fontSize": 23.5, "fontStyle": "italic", "color": "black"},
            "encoding": {
              "x": {"field": "pos", "type": "quantitative", "scale": {"domain": [0, 22], "nice": false, "zero": false}, "axis": null},
              "y": {"field": "mol", "type": "quantitative", "scale": {"type": "log", "domain": [0.000001, 0.1], "nice": false}},
              "text": {"field": "text"}
            }
          },
          {
            "data": {"name": "bText"},
            "transform": [{"filter": "datum.k == 'end'"}],
            "mark": {"type": "text", "align": "center", "baseline": "middle", "fontSize": 21.5, "fontWeight": "bold", "color": "#E5187F"},
            "encoding": {
              "x": {"field": "pos", "type": "quantitative", "scale": {"domain": [0, 22], "nice": false, "zero": false}, "axis": null},
              "y": {"field": "mol", "type": "quantitative", "scale": {"type": "log", "domain": [0.000001, 0.1], "nice": false}},
              "text": {"field": "text"}
            }
          },
          {
            "data": {"name": "bText"},
            "transform": [{"filter": "datum.k == 'chl'"}],
            "mark": {"type": "text", "align": "right", "baseline": "middle", "fontSize": 21, "fontWeight": "bold", "color": "black"},
            "encoding": {
              "x": {"field": "pos", "type": "quantitative", "scale": {"domain": [0, 22], "nice": false, "zero": false}, "axis": null},
              "y": {"field": "mol", "type": "quantitative", "scale": {"type": "log", "domain": [0.000001, 0.1], "nice": false}},
              "text": {"field": "text"}
            }
          },
          {
            "data": {"name": "bText"},
            "transform": [{"filter": "datum.k == 'chla'"}],
            "mark": {"type": "text", "align": "left", "baseline": "middle", "fontSize": 21, "fontWeight": "bold", "fontStyle": "italic", "color": "black"},
            "encoding": {
              "x": {"field": "pos", "type": "quantitative", "scale": {"domain": [0, 22], "nice": false, "zero": false}, "axis": null},
              "y": {"field": "mol", "type": "quantitative", "scale": {"type": "log", "domain": [0.000001, 0.1], "nice": false}},
              "text": {"field": "text"}
            }
          }
        ]
      }
    ],
    "resolve": {"scale": {"x": "independent"}}
  }
]
}
